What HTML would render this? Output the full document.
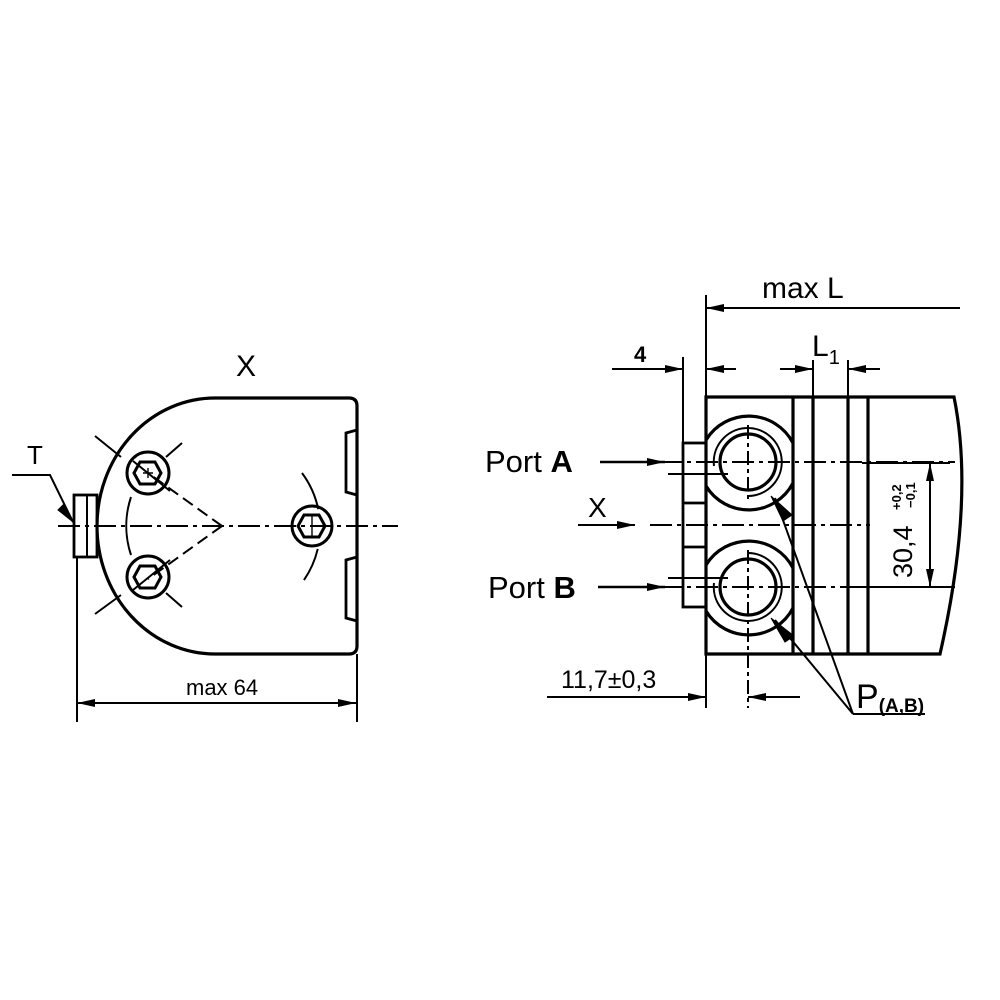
<!DOCTYPE html>
<html><head><style>body{margin:0;background:#fff}svg{display:block}text{font-family:"Liberation Sans","DejaVu Sans",sans-serif;fill:#000}</style></head>
<body>
<svg width="1000" height="1000" viewBox="0 0 1000 1000" xmlns="http://www.w3.org/2000/svg">
<defs>
<marker id="ar2" viewBox="0 0 18 8" refX="18" refY="4" markerWidth="18" markerHeight="8" orient="auto-start-reverse" markerUnits="userSpaceOnUse"><path d="M0,0L18,4L0,8z" fill="#000"/></marker>
</defs>
<g fill="none" stroke="#000">
<!-- LEFT VIEW -->
<path d="M215,398 L349,398 Q357,398 357,406 L357,646 Q357,654 349,654 L215,654 A118,128 0 0 1 215,398 Z" stroke-width="3.2"/>
<path d="M357,430 L346,433 L346,492 L357,495 M357,557 L346,560 L346,618 L357,621" stroke-width="2.8"/>
<rect x="74" y="495" width="23" height="62" stroke-width="2.8"/>
<line x1="87" y1="495" x2="87" y2="557" stroke-width="2"/>
<line x1="58" y1="526" x2="398" y2="526" stroke-width="2" stroke-dasharray="22,5,4,5"/>
<path d="M222,526 L148,473 M222,526 L148,579" stroke-width="2" stroke-dasharray="12,6"/>
<path d="M131,497 A92,92 0 0 0 131,555" stroke-width="2"/>
<path d="M302,473 A92,92 0 0 1 304,580" stroke-width="2" stroke-dasharray="40,40"/>
<path d="M95,436 L121,457 M95,614 L121,595 M182,443 L166,457 M182,607 L166,593 M133,461 L170,491 M133,590 L170,560" stroke-width="2"/>
<g stroke-width="3">
<circle cx="148" cy="473" r="21"/><circle cx="148" cy="577" r="21"/><circle cx="312" cy="526" r="20"/>
<path d="M140,462 L155,462 L161,473 L155,484 L140,484 L134,473 Z"/>
<path d="M140,566 L155,566 L161,577 L155,588 L140,588 L134,577 Z"/>
<path d="M304,515 L319,515 L325,526 L319,537 L304,537 L298,526 Z"/>
</g>
<path d="M148,468 V478 M143,473 H153 M312,515 V537" stroke-width="1.4"/>
<path d="M12,475 L50,475 L73,522" stroke-width="2"/>
<path d="M64,504 L73,522 L58,510Z" fill="#000" stroke-width="1"/>
<line x1="77" y1="557" x2="77" y2="722" stroke-width="2"/>
<line x1="357" y1="654" x2="357" y2="722" stroke-width="2"/>
<line x1="77" y1="703" x2="356" y2="703" stroke-width="2" marker-start="url(#ar2)" marker-end="url(#ar2)"/>

<!-- RIGHT VIEW -->
<path d="M706,397 L954,397 Q975,500 940,654 L706,654 Z" stroke-width="3.2"/>
<path d="M793,397 V654 M813,397 V654 M848,397 V654 M868,397 V654" stroke-width="3.2"/>
<path d="M813,360 V397 M848,360 V397" stroke-width="2"/>
<rect x="683" y="443" width="23" height="164" stroke-width="2.8"/>
<path d="M683,503 H706 M683,547 H706" stroke-width="2.8"/>
<line x1="683" y1="357" x2="683" y2="443" stroke-width="2"/>
<line x1="706" y1="295" x2="706" y2="708" stroke-width="2"/>
<g stroke-width="3.2">
<path d="M706,440 A50,50 0 0 1 793,443 M793,483 A50,50 0 0 1 706,486"/>
<path d="M706,565 A50,50 0 0 1 793,568 M793,608 A50,50 0 0 1 706,611"/>
<circle cx="748" cy="462" r="28"/><circle cx="748" cy="587" r="28"/>
</g>
<path d="M714,466 A34,34 0 1 1 748,496 M748,553 A34,34 0 1 1 714,583" stroke-width="2"/>
<path d="M660,462 H955 M660,587 H955 M650,525 H870" stroke-width="2" stroke-dasharray="22,5,4,5"/>
<path d="M748,425 V500 M748,550 V708" stroke-width="2" stroke-dasharray="14,4,4,4"/>
<path d="M668,474 H728 M668,578 H728" stroke-width="2"/>
<path d="M862,463 H950 M862,587 H950" stroke-width="2"/>
<line x1="930" y1="463" x2="930" y2="587" stroke-width="2" marker-start="url(#ar2)" marker-end="url(#ar2)"/>
<line x1="960" y1="308" x2="706" y2="308" stroke-width="2" marker-end="url(#ar2)"/>
<line x1="612" y1="369" x2="683" y2="369" stroke-width="2" marker-end="url(#ar2)"/>
<line x1="736" y1="369" x2="706" y2="369" stroke-width="2" marker-end="url(#ar2)"/>
<line x1="780" y1="369" x2="813" y2="369" stroke-width="2" marker-end="url(#ar2)"/>
<line x1="880" y1="369" x2="848" y2="369" stroke-width="2" marker-end="url(#ar2)"/>
<line x1="547" y1="697" x2="706" y2="697" stroke-width="2" marker-end="url(#ar2)"/>
<line x1="800" y1="697" x2="748" y2="697" stroke-width="2" marker-end="url(#ar2)"/>
<line x1="600" y1="462" x2="665" y2="462" stroke-width="2.5" marker-end="url(#ar2)"/>
<line x1="598" y1="587" x2="665" y2="587" stroke-width="2.5" marker-end="url(#ar2)"/>
<line x1="578" y1="525" x2="635" y2="525" stroke-width="2" marker-end="url(#ar2)"/>
<path d="M853,714 L775,498 M853,714 L775,620 M853,714 H925" stroke-width="2"/>
<path d="M771,496 L792,515 L783,521Z M771,618 L794,636 L785,642Z" fill="#000" stroke-width="1"/>
</g>
<text x="236" y="376" font-size="30">X</text>
<text x="27" y="464" font-size="26">T</text>
<text x="186" y="695" font-size="22">max 64</text>
<text x="762" y="298" font-size="30">max  L</text>
<text x="634" y="362" font-size="22" font-weight="bold">4</text>
<text x="812" y="356" font-size="30">L<tspan font-size="20" dy="8">1</tspan></text>
<text x="485" y="472" font-size="31">Port <tspan font-weight="bold">A</tspan></text>
<text x="488" y="598" font-size="31">Port <tspan font-weight="bold">B</tspan></text>
<text x="588" y="517" font-size="28">X</text>
<text x="561" y="688" font-size="25">11,7±0,3</text>
<text x="856" y="708" font-size="34">P<tspan font-size="19" font-weight="bold" dy="4">(A,B)</tspan></text>
<text transform="translate(912,578) rotate(-90)" font-size="27">30,4</text>
<text transform="translate(901,510) rotate(-90)" font-size="13" font-weight="bold">+0,2</text>
<text transform="translate(915,508) rotate(-90)" font-size="13" font-weight="bold">−0,1</text>
</svg>
</body></html>
